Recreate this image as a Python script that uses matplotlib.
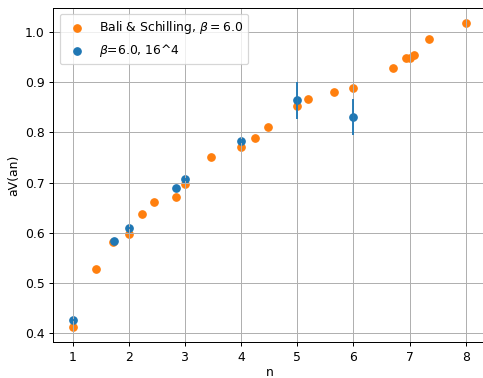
import numpy as np
import matplotlib
matplotlib.use("Agg")
import matplotlib.pyplot as plt

# Bali & Schilling, beta = 6.0
n_bs = [1.0, 1.414, 1.715, 2.0, 2.236, 2.449, 2.828, 3.0, 3.464, 4.0, 4.243,
        4.472, 5.0, 5.196, 5.657, 6.0, 6.708, 6.928, 7.0, 7.071, 7.348, 8.0]
v_bs = [0.412, 0.527, 0.581, 0.597, 0.637, 0.662, 0.671, 0.697, 0.752, 0.771,
        0.789, 0.811, 0.853, 0.866, 0.880, 0.888, 0.929, 0.949, 0.949, 0.955,
        0.987, 1.019]

# beta = 6.0, 16^4 lattice
n_lat = [1.0, 1.74, 2.0, 2.84, 3.0, 4.0, 5.0, 6.0]
v_lat = [0.425, 0.583, 0.609, 0.689, 0.707, 0.783, 0.864, 0.831]
v_err = [0.002, 0.002, 0.002, 0.002, 0.003, 0.004, 0.0375, 0.036]

dpi = 89
fig = plt.figure(figsize=(483 / dpi, 378 / dpi), dpi=dpi)
ax = fig.add_axes([0.1104, 0.0944, 0.8944, 0.885])

ax.scatter(n_bs, v_bs, color='C1', label=r'Bali & Schilling, $\beta=6.0$')
ax.scatter(n_lat, v_lat, color='C0', label=r'$\beta$=6.0, 16^4')
ax.errorbar(n_lat, v_lat, yerr=v_err, fmt='none', ecolor='C0')

ax.set_xlim(0.65, 8.35)
ax.set_ylim(0.381, 1.049)
ax.set_xlabel('n', labelpad=2)
ax.set_ylabel('aV(an)')
ax.grid()
ax.legend(loc='upper left')

fig.savefig('out.png', dpi=dpi)
